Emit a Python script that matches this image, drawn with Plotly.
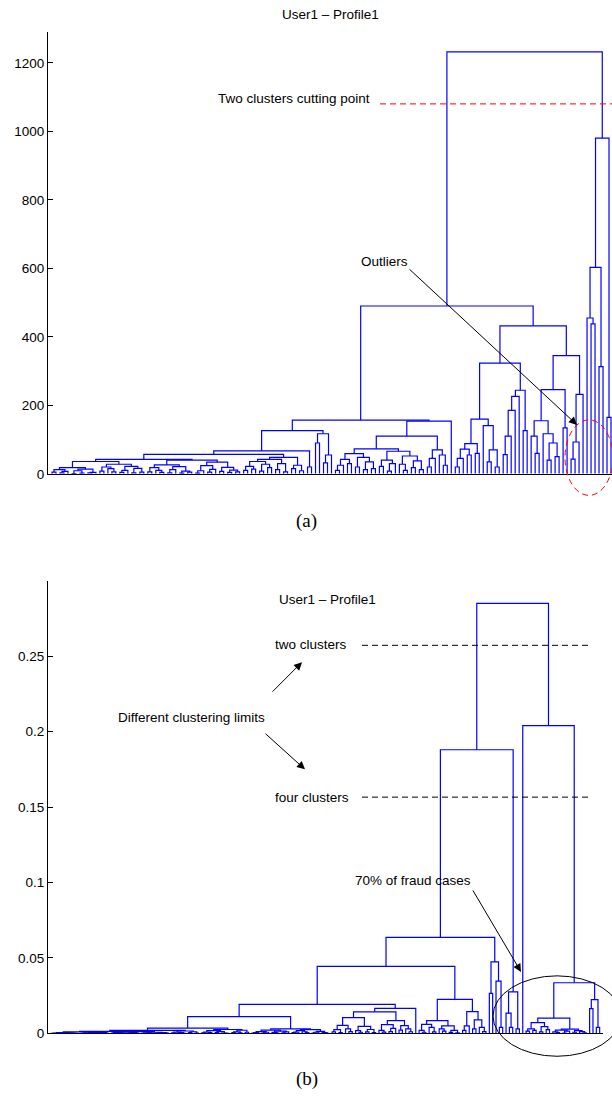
import plotly.graph_objects as go

# ---------------- DATA ----------------
# Dendrogram trees: internal node = [merge height, left subtree, right subtree], leaf = 0
# ---- (a) top dendrogram ----
A_N99 = [36, [18, [12, [5, 0, 0], [7, [3, 0, 0], 0]], [14, [9, [1, 0, 0], [2, 0, 0]], [4, [3, 0, 0], 0]]],
             [28, [20, [8, 0, 0], [15, 0, [6, 0, 0]]], [22, [10, [4, 0, 0], 0], [16, [3, 0, 0], [5, 0, 0]]]]]
A_N192 = [40, [26, [18, [6, 0, 0], [10, 0, [4, 0, 0]]], [21, [12, [3, 0, 0], 0], [8, [2, 0, 0], [5, 0, 0]]]],
              [34, [24, [9, [2, 0, 0], 0], [13, [5, 0, 0], 0]], [19, [7, 0, 0], [11, [4, 0, 0], [6, 0, 0]]]]]
A_N286 = [48, [42, [36, [22, [10, 0, 0], [14, 0, 0]], [28, [8, 0, 0], [18, 0, 0]]], [30, [12, 0, 0], [6, 0, 0]]],
              [25, [15, 0, 0], [9, 0, 0]]]
A_A1LR = [117, [90, 0, 0], [55, [32, 0, 0], 0]]
A_A1RLL = [73, [59, [42, [25, [10, 0, 0], 0], [30, 0, 0]], [48, [20, 0, 0], [35, [12, 0, 0], [15, 0, 0]]]],
               [66, [40, [22, 0, 0], [30, [8, 0, 0], 0]], [52, [28, 0, [10, 0, 0]], [38, [18, 0, 0], [12, 0, 0]]]]]
A_A1RLR = [70, [45, [20, 0, 0], 0], [55, 0, [25, 0, 0]]]
A_A2LL = [160, [88, [72, [45, [20, 0, 0], 0], [55, 0, 0]], [60, 0, 0]], [141, 0, [70, [35, 0, 0], [20, 0, 0]]]]
A_A2LR = [244, [226, [185, [110, [56, 0, 0], 0], 0], 0], [126, 0, 0]]
A_N542 = [155, [110, 0, [60, 0, 0]], [117, 0, [90, [40, 0, 0], [50, 0, 0]]]]
A_A2RR = [232, [93, [43, 0, 0], 0], 0]
A_B = [980, [603, [455, 0, [438, 0, 0]], [313, 0, 0]], [165, 0, 0]]

A_A1 = [157, [126, [67, [57, [42, A_N99, A_N192], A_N286], [20, 0, 0]], A_A1LR],
             [154, [110, A_A1RLL, A_A1RLR], 0]]
A_A2 = [432, [323, A_A2LL, A_A2LR], [345, [246, A_N542, [134, 0, 0]], A_A2RR]]
TREE_A = [1232, [490, A_A1, A_A2], A_B]

# ---- (b) bottom dendrogram ----
B_G1 = [0.0006, [0.0003, [0.0001, 0, 0], [0.0002, 0, 0]], [0.0004, [0.0002, 0, 0], [0.0001, 0, [0.0001, 0, 0]]]]
B_G2 = [0.0007, [0.0004, [0.0002, 0, [0.0001, 0, 0]], [0.0001, 0, 0]], [0.0005, [0.0003, 0, 0], [0.0002, 0, 0]]]
B_G3 = [0.0009, [0.0005, [0.0002, 0, 0], [0.0003, [0.0001, 0, 0], 0]], [0.0006, [0.0002, 0, 0], [0.0004, 0, 0]]]
B_G4 = [0.0008, [0.0004, [0.0001, 0, 0], [0.0002, 0, 0]], [0.0005, [0.0003, 0, [0.0001, 0, 0]], [0.0002, 0, 0]]]
B_N182 = [0.0016, [0.0009, [0.0004, 0, 0], [0.0006, 0, [0.0002, 0, 0]]], [0.0011, [0.0005, 0, 0], [0.0003, 0, 0]]]
B_N211 = [0.0026, [0.0018, [0.0009, [0.0004, 0, 0], [0.0006, 0, 0]], [0.0012, [0.0005, 0, 0], [0.0003, 0, [0.0001, 0, 0]]]],
                  [0.0021, [0.0010, [0.0006, 0, 0], [0.0004, 0, 0]], [0.0008, 0, 0]]]
B_H1 = [0.0012, [0.0006, [0.0002, 0, 0], 0], [0.0008, [0.0003, 0, 0], 0]]
B_H2 = [0.0015, [0.0007, 0, [0.0003, 0, 0]], [0.0010, [0.0004, 0, 0], 0]]
B_H3 = [0.0018, [0.0009, [0.0005, 0, 0], 0], [0.0011, 0, [0.0006, 0, 0]]]
B_H4 = [0.0014, [0.0008, [0.0002, 0, 0], 0], [0.0006, 0, [0.0001, 0, 0]]]
B_J1 = [0.0054, [0.0025, [0.001, 0, 0], [0.0006, 0, 0]], [0.003, 0, [0.0012, 0, 0]]]
B_J2 = [0.0047, [0.0018, 0, [0.0008, 0, 0]], [0.0026, [0.001, 0, 0], [0.0005, 0, 0]]]
B_J3 = [0.0058, [0.002, 0, [0.0009, 0, 0]], [0.0033, [0.0012, 0, 0], 0]]
B_J4 = [0.0052, [0.0022, 0, 0], [0.003, 0, [0.0011, 0, 0]]]
B_N438 = [0.0085, [0.006, [0.002, 0, [0.0008, 0, 0]], [0.004, 0, [0.001, 0, 0]]],
                  [0.005, [0.003, 0, [0.0015, 0, 0]], [0.002, [0.0007, 0, 0], [0.0004, 0, 0]]]]
B_N478 = [0.0145, [0.005, [0.002, 0, 0], 0], [0.009, [0.003, 0, 0], [0.004, 0, [0.0012, 0, 0]]]]
B_N495 = [0.0474, [0.0265, 0, 0], [0.0347, 0, [0.004, 0, 0]]]
B_L515 = [0.0276, [0.0134, 0, [0.004, 0, 0]], [0.003, 0, 0]]
B_N538 = [0.0072, [0.003, [0.0015, 0, 0], [0.002, 0, 0]], [0.0045, [0.001, 0, 0], [0.0025, 0, 0]]]
B_N576 = [0.0029, [0.0022, [0.001, 0, [0.0005, 0, 0]], [0.0015, [0.0003, 0, 0], 0]],
                  [0.0018, [0.0008, 0, 0], [0.0012, 0, [0.0004, 0, 0]]]]
B_N593 = [0.0224, [0.0164, 0, 0], [0.004, 0, 0]]

B_N233 = [0.0112, [0.0035, [0.002, [0.0014, [0.0010, B_G1, B_G2], [0.0012, B_G3, B_G4]], B_N182], B_N211],
                  [0.0030, [0.0022, B_H1, B_H2], [0.0025, B_H3, B_H4]]]
B_N392 = [0.0166, [0.0143, [0.0105, B_J1, B_J2], [0.0085, B_J3, B_J4]], 0]
B_L2 = [0.188, [0.0636, [0.0445, [0.0193, B_N233, B_N392], [0.0226, B_N438, B_N478]], B_N495], B_L515]
B_R2 = [0.204, 0, [0.0336, [0.0101, B_N538, B_N576], B_N593]]
TREE_B = [0.285, B_L2, B_R2]

TICKS_A = [0, 200, 400, 600, 800, 1000, 1200]
TICKS_B = [0, 0.05, 0.1, 0.15, 0.2, 0.25]
TICKTEXT_B = ["0", "0.05", "0.1", "0.15", "0.2", "0.25"]
TITLE = "User1 \u2013 Profile1"
CUT_A = 1080               # two clusters cutting point
CUT_B = [0.2572, 0.1566]   # two clusters / four clusters


# ---------------- LAYOUT OF THE TREES ----------------
def dendro_segments(tree):
    xs, ys = [], []
    count = [0]

    def walk(node):
        if not isinstance(node, list):
            count[0] += 1
            return float(count[0]), 0.0
        h, a, b = node
        xa, ha = walk(a)
        xb, hb = walk(b)
        xs.extend([xa, xa, xb, xb, None])
        ys.extend([ha, h, h, hb, None])
        return (xa + xb) / 2.0, h

    walk(tree)
    return xs, ys, count[0]


xa_, ya_, na = dendro_segments(TREE_A)
xb_, yb_, nb = dendro_segments(TREE_B)

W, H = 612, 1100
ML = 48
PW = W - ML


def px(x):
    return (x - ML) / PW


def py(y):
    return 1 - y / H


FONT = "Liberation Sans, Arial, Helvetica, sans-serif"
SERIF = "Liberation Serif, Times New Roman, serif"
BLUE = "#0000FF"

fig = go.Figure()
fig.add_trace(go.Scatter(x=xa_, y=ya_, mode="lines", line=dict(color=BLUE, width=1.2),
                         xaxis="x", yaxis="y", hoverinfo="skip", showlegend=False))
fig.add_trace(go.Scatter(x=xb_, y=yb_, mode="lines", line=dict(color=BLUE, width=1.2),
                         xaxis="x2", yaxis="y2", hoverinfo="skip", showlegend=False))

# axis geometry (pixels)
A_TOP, A_BOT = 32.2, 477.3
B_TOP, B_BOT = 585.0, 1041.0
B_RIGHT = 603.0

xax = dict(showline=True, linecolor="black", linewidth=1, showticklabels=False, ticks="",
           showgrid=False, zeroline=False, fixedrange=True)
yax = dict(showline=True, linecolor="black", linewidth=1, ticks="inside", ticklen=5, tickwidth=1,
           tickcolor="black", showgrid=False, zeroline=False,
           tickfont=dict(family=FONT, size=13.5, color="black"))

fig.update_layout(
    width=W, height=H, margin=dict(l=ML, r=0, t=0, b=0),
    paper_bgcolor="white", plot_bgcolor="white", showlegend=False,
    xaxis=dict(xax, domain=[0, 1], range=[0, na + 0.25], anchor="y"),
    yaxis=dict(yax, domain=[py(A_BOT), py(A_TOP)], range=[0, 1290], tickvals=TICKS_A,
               ticktext=[str(t) for t in TICKS_A], anchor="x"),
    xaxis2=dict(xax, domain=[0, px(B_RIGHT)], range=[0, nb + 1], anchor="y2"),
    yaxis2=dict(yax, domain=[py(B_BOT), py(B_TOP)], range=[0, 0.3], tickvals=TICKS_B,
                ticktext=TICKTEXT_B, anchor="x2"),
)

sx = (W - ML) / (na + 0.25)           # px per leaf, top
sx2 = (B_RIGHT - ML) / (nb + 1)       # px per leaf, bottom

shapes = []
# red dashed cutting line (top)
shapes.append(dict(type="line", xref="x", yref="y", x0=(380 - ML) / sx, x1=na + 0.25, y0=CUT_A, y1=CUT_A,
                   line=dict(color="red", width=1, dash="6px,4px")))
# red dashed circle around outliers
shapes.append(dict(type="circle", xref="paper", yref="paper", x0=px(565), x1=px(613), y0=py(499), y1=py(423),
                   line=dict(color="red", width=1, dash="6px,4px")))
# black dashed lines (bottom)
for c in CUT_B:
    shapes.append(dict(type="line", xref="x2", yref="y2", x0=(362 - ML) / sx2, x1=(592 - ML) / sx2, y0=c, y1=c,
                       line=dict(color="black", width=1, dash="6px,4px")))
# ellipse around fraud cases
shapes.append(dict(type="circle", xref="paper", yref="paper", x0=px(493), x1=px(621), y0=py(1064), y1=py(983),
                   line=dict(color="black", width=1)))
fig.update_layout(shapes=shapes)

ann = []


def text(t, x, y, size=13.5, family=FONT):
    ann.append(dict(text=t, xref="paper", yref="paper", x=px(x), y=py(y), xanchor="center", yanchor="middle",
                    showarrow=False, font=dict(family=family, size=size, color="black")))


def arrow(x0, y0, x1, y1):
    ann.append(dict(text="", xref="paper", yref="paper", x=px(x1), y=py(y1), ax=x0 - x1, ay=y0 - y1,
                    axref="pixel", ayref="pixel", showarrow=True, arrowhead=2, arrowsize=1.6,
                    arrowwidth=1, arrowcolor="black", standoff=0, startstandoff=0))


text(TITLE, 330, 15, 13.5)
text("Two clusters cutting point", 294, 99)
text("Outliers", 384, 263)
arrow(408, 271, 577, 428)
text("(a)", 306, 525, 19, SERIF)

text(TITLE, 327, 604, 13.5)
text("two clusters", 311, 649)
text("four clusters", 312, 803)
text("Different clustering limits", 191, 723)
arrow(271, 698, 302, 667)
arrow(264, 738, 305, 775)
text("70% of fraud cases", 413, 887)
arrow(472, 896, 521, 979)
text("(b)", 307, 1087, 19, SERIF)

fig.update_layout(annotations=ann)

fig.write_html(
    "out.html",
    config={"displayModeBar": False, "responsive": False},
    post_script=("document.documentElement.style.margin='0px';document.body.style.margin='0px';"
                 "document.documentElement.style.overflow='hidden';document.body.style.overflow='hidden';"),
)
